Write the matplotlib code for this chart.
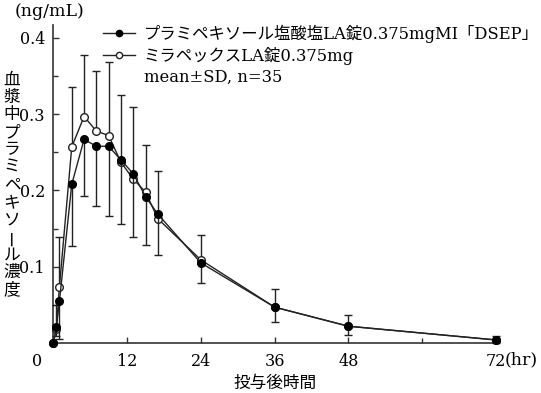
import matplotlib
matplotlib.use("Agg")
import matplotlib.pyplot as plt
from matplotlib.lines import Line2D
from matplotlib.transforms import ScaledTranslation
import numpy as np

# ---- data ----
time_h = [0, 0.5, 1, 3, 5, 7, 9, 11, 13, 15, 17, 24, 36, 48, 72]
generic_mean = [0, 0.021, 0.055, 0.208, 0.267, 0.258, 0.258, 0.240, 0.222, 0.192, 0.169, 0.105, 0.047, 0.022, 0.004]
generic_sd = [0, 0.012, 0.050, 0.081, 0.074, 0.079, 0.091, 0.084, 0.083, 0.063, 0.053, 0.026, 0.019, 0.011, 0.004]
brand_mean = [0, 0.018, 0.074, 0.257, 0.297, 0.278, 0.272, 0.237, 0.215, 0.198, 0.163, 0.109, 0.047, 0.022, 0.004]
brand_sd = [0, 0.032, 0.065, 0.079, 0.081, 0.079, 0.096, 0.088, 0.095, 0.062, 0.062, 0.033, 0.024, 0.015, 0.005]
generic_label = "プラミペキソール塩酸塩LA錠0.375mgMI「DSEP」"
brand_label = "ミラペックスLA錠0.375mg"
note_label = "mean±SD, n=35"
xtick_vals = [0, 12, 24, 36, 48, 72]
xtick_labels = ["0", "12", "24", "36", "48", "72"]
ytick_vals = [0.1, 0.2, 0.3, 0.4]
ytick_labels = ["0.1", "0.2", "0.3", "0.4"]
ylabel_text = "血漿中プラミペキソール濃度"
xlabel_text = "投与後時間"
unit_y = "(ng/mL)"
unit_x = "(hr)"

FAM = ["DejaVu Serif", "Noto Sans CJK JP"]
plt.rcParams["font.family"] = FAM
plt.rcParams["font.size"] = 12

W, H = 541, 393
fig = plt.figure(figsize=(W / 100, H / 100), dpi=100)
ax = fig.add_axes([53.3 / W, (H - 343) / H, (496 - 53.3) / W, (343 - 25) / H])

dark = "#222222"
# brand (open circles), upper error bars
ax.errorbar(time_h, brand_mean, yerr=[np.zeros(len(brand_sd)), brand_sd],
            fmt="-o", color=dark, mfc="white", mec=dark, ms=5.5, mew=1.0,
            lw=1.0, elinewidth=1.0, ecolor=dark, capsize=3, capthick=1.0,
            clip_on=False, zorder=3)
# generic (filled circles), lower error bars
ax.errorbar(time_h, generic_mean, yerr=[generic_sd, np.zeros(len(generic_sd))],
            fmt="-o", color=dark, mfc="black", mec="black", ms=5.5, mew=1.0,
            lw=1.0, elinewidth=1.0, ecolor=dark, capsize=3, capthick=1.0,
            clip_on=False, zorder=4)

ax.set_xlim(0, 72)
ax.set_ylim(0, 0.417)
for s in ["top", "right"]:
    ax.spines[s].set_visible(False)
for s in ["left", "bottom"]:
    ax.spines[s].set_color("#333333")
    ax.spines[s].set_linewidth(1.2)

ax.set_xticks(xtick_vals)
ax.set_xticklabels(xtick_labels)
ax.set_xticks([60], minor=True)
ax.set_yticks(ytick_vals)
ax.set_yticklabels(ytick_labels)
ax.set_yticks(np.arange(0.05, 0.41, 0.1), minor=True)
ax.tick_params(axis="both", which="major", direction="in", length=4.5, width=1.0,
               color="#333333", labelsize=11.5, pad=6)
ax.tick_params(axis="both", which="minor", direction="in", length=3.5, width=1.0,
               color="#333333")
ax.tick_params(axis="x", which="major", pad=7)
# shift the origin "0" label to the left of the y axis
lab0 = ax.get_xticklabels()[0]
lab0.set_transform(lab0.get_transform() + ScaledTranslation(-16 / 100, 0, fig.dpi_scale_trans))
ax.xaxis.get_major_ticks()[0].tick1line.set_visible(False)

# units
fig.text(15 / W, 1 - 12 / H, unit_y, ha="left", va="center", fontsize=12.5)
ax.annotate(unit_x, xy=(1, 0), xycoords="axes fraction", xytext=(9, -17),
            textcoords="offset pixels", ha="left", va="center", fontsize=12.5)

# x label
ax.set_xlabel(xlabel_text, fontsize=12, labelpad=4)

# vertical y label, one character per line
y0, step = 80, 17.5
for i, ch in enumerate(ylabel_text):
    rot = 90 if ch == "ー" else 0
    fig.text(12 / W, 1 - (y0 + i * step) / H, ch, ha="center", va="center",
             fontsize=12, rotation=rot, family="Noto Sans CJK JP")

# legend
handles = [
    Line2D([], [], color=dark, lw=1.0, marker="o", mfc="black", mec="black", ms=4.5),
    Line2D([], [], color=dark, lw=1.0, marker="o", mfc="white", mec=dark, ms=4.5),
    Line2D([], [], linestyle="none"),
]
leg = ax.legend(handles, [generic_label, brand_label, note_label], loc="upper left",
                bbox_to_anchor=(0.112, 1.0), frameon=False, fontsize=11.8,
                handlelength=1.95, handletextpad=0.55, labelspacing=0.22,
                borderpad=0, borderaxespad=0)

fig.savefig("out.png", dpi=100)
